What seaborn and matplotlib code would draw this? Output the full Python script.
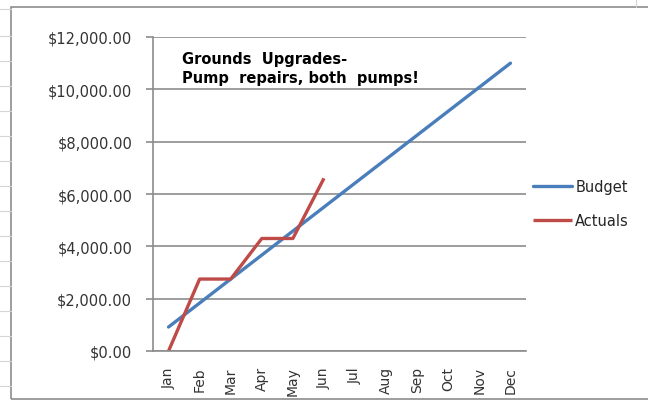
import seaborn as sns
import numpy as np
import pandas as pd
import matplotlib.pyplot as plt
from matplotlib.patches import Rectangle

# data
months = ['Jan', 'Feb', 'Mar', 'Apr', 'May', 'Jun', 'Jul', 'Aug', 'Sep', 'Oct', 'Nov', 'Dec']
budget = [917, 1833, 2750, 3667, 4583, 5500, 6417, 7333, 8250, 9167, 10083, 11000]
actuals = [0, 2750, 2750, 4300, 4300, 6600]
yticks = [0, 2000, 4000, 6000, 8000, 10000, 12000]
note = 'Grounds  Upgrades-\nPump  repairs, both  pumps!'

budget_df = pd.DataFrame({'pos': range(len(budget)), 'value': budget})
actual_df = pd.DataFrame({'pos': range(len(actuals)), 'value': actuals})

sns.set_style('white')
plt.rcParams['font.family'] = ['DejaVu Sans']

fig = plt.figure(figsize=(6.48, 4.02), dpi=100)

# spreadsheet behind the chart
for yy in [10, 37, 62, 87, 112, 137, 162, 187, 212, 237, 262, 287, 312, 337, 362, 387]:
    fig.add_artist(plt.Line2D([0, 11 / 648], [1 - yy / 402, 1 - yy / 402], color='#d4d4d4', lw=0.8))
fig.add_artist(Rectangle((11 / 648, 2 / 402), 640 / 648, 392 / 402, fill=False,
                         edgecolor='#8c8c8c', lw=1.2))
fig.add_artist(plt.Line2D([636 / 648, 636 / 648], [1 - 8 / 402, 1], color='#d4d4d4', lw=0.8))

ax = fig.add_axes([153 / 648, 1 - 352 / 402, 373 / 648, 314 / 402])

sns.lineplot(data=budget_df, x='pos', y='value', ax=ax, color='#4a7ebb', lw=2.4,
             label='Budget', solid_capstyle='round')
sns.lineplot(data=actual_df, x='pos', y='value', ax=ax, color='#be4b48', lw=2.4,
             label='Actuals', solid_capstyle='butt')

ax.set_xlim(-0.5, len(months) - 0.5)
ax.set_ylim(0, 12000)
ax.set_yticks(yticks)
ax.set_yticklabels(['${:,.2f}'.format(v) for v in yticks], fontsize=10.5, color='#333333')
ax.set_xticks(range(len(months)))
ax.set_xticklabels(months, rotation=90, fontsize=10, color='#333333', va='top')
ax.tick_params(axis='x', length=0, pad=11)
ax.set_xticks(np.arange(-0.5, len(months) + 0.5, 1), minor=True)
ax.tick_params(axis='x', which='minor', length=5, color='#8c8c8c', width=1.2, direction='out')
ax.tick_params(axis='y', length=5, color='#8c8c8c', width=1.2, direction='out', pad=10, left=True)
ax.yaxis.grid(True, color='#8c8c8c', lw=1.2)
ax.set_axisbelow(True)
for s in ['top', 'right']:
    ax.spines[s].set_visible(False)
for s in ['left', 'bottom']:
    ax.spines[s].set_color('#8c8c8c')
    ax.spines[s].set_linewidth(1.2)
ax.set_xlabel('')
ax.set_ylabel('')

ax.text(0.078, 0.955, note, transform=ax.transAxes, fontsize=10.5, fontweight='bold',
        va='top', ha='left', linespacing=1.35, color='black')

ax.legend(loc='center left', bbox_to_anchor=(1.003, 0.47), frameon=False, fontsize=10.5,
          handlelength=2.7, handletextpad=0.2, labelspacing=1.3, borderaxespad=0.0)

fig.savefig('out.png', dpi=100, facecolor='white')
